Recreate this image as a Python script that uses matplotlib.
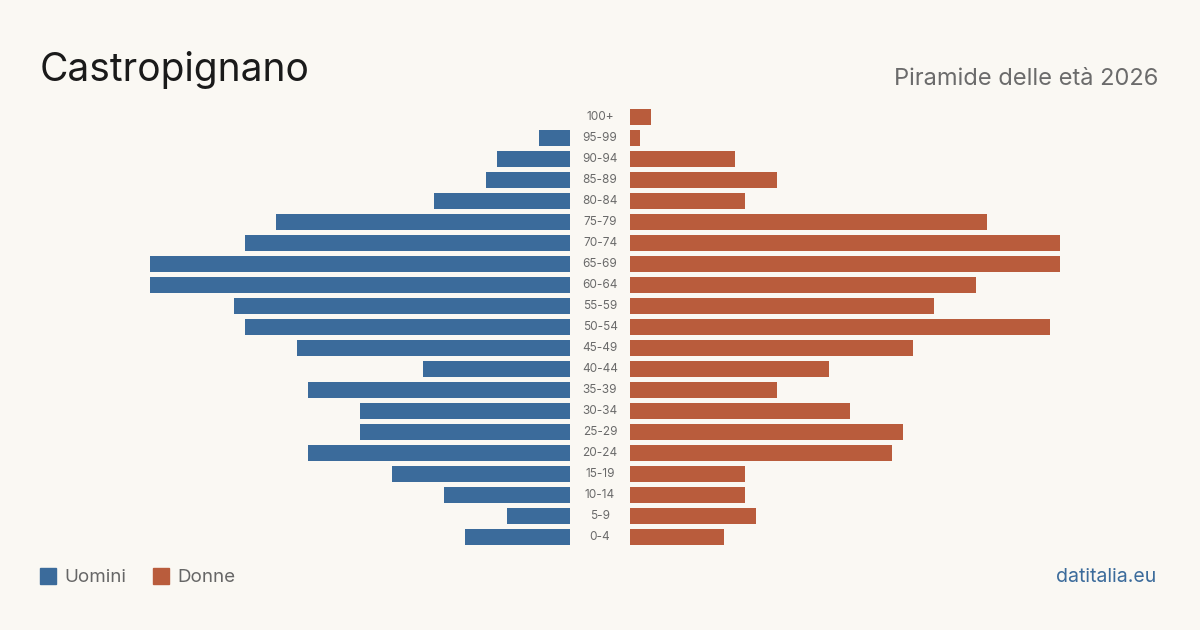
import matplotlib.pyplot as plt
from matplotlib.patches import Rectangle

plt.rcParams['font.family'] = ['Inter', 'DejaVu Sans']

eta = ["100+", "95-99", "90-94", "85-89", "80-84", "75-79", "70-74", "65-69",
       "60-64", "55-59", "50-54", "45-49", "40-44", "35-39", "30-34", "25-29",
       "20-24", "15-19", "10-14", "5-9", "0-4"]
uomini = [0, 3, 7, 8, 13, 28, 31, 40, 40, 32, 31, 26, 14, 25, 20, 20, 25, 17, 12, 6, 10]
donne = [2, 1, 10, 14, 11, 34, 41, 41, 33, 29, 40, 27, 19, 14, 21, 26, 25, 11, 11, 12, 9]

blu = "#3b6b9b"
rosso = "#b95c3c"
sfondo = "#faf8f3"

W, H = 1200, 630
fig = plt.figure(figsize=(12, 6.3), dpi=100, facecolor=sfondo)

scala = 10.49  # pixel per persona
xmax = 45
larg = xmax * scala
bottom = 1 - 547.5 / H
altezza = 441 / H

ax_u = fig.add_axes([(570 - larg) / W, bottom, larg / W, altezza])
ax_d = fig.add_axes([630 / W, bottom, larg / W, altezza])

pos = list(range(len(eta)))[::-1]
ax_u.barh(pos, uomini, height=0.8, color=blu)
ax_d.barh(pos, donne, height=0.8, color=rosso)
ax_u.set_xlim(xmax, 0)
ax_d.set_xlim(0, xmax)
for ax in (ax_u, ax_d):
    ax.set_ylim(-0.5, len(eta) - 0.5)
    ax.axis("off")

for p, e in zip(pos, eta):
    y = bottom + altezza * (p + 0.5) / len(eta)
    fig.text(600 / W, y, e, ha="center", va="center", fontsize=8.5, color="#6a6a6a")

fig.text(40 / W, 1 - 81 / H, "Castropignano", fontsize=28, color="#1a1a1a", ha="left", va="baseline")
fig.text(1158 / W, 1 - 85 / H, "Piramide delle età 2026", fontsize=17, color="#6b6b6b", ha="right", va="baseline")

fig.patches.append(Rectangle((40 / W, 1 - 584 / H), 16 / W, 16 / H, transform=fig.transFigure, color=blu))
fig.text(64 / W, 1 - 577 / H, "Uomini", fontsize=13.5, color="#666666", va="center")
fig.patches.append(Rectangle((153 / W, 1 - 584 / H), 16 / W, 16 / H, transform=fig.transFigure, color=rosso))
fig.text(177 / W, 1 - 577 / H, "Donne", fontsize=13.5, color="#666666", va="center")

fig.text(1156 / W, 1 - 577 / H, "datitalia.eu", fontsize=14, color=blu, ha="right", va="center")

fig.savefig("out.png", dpi=100, facecolor=sfondo)
